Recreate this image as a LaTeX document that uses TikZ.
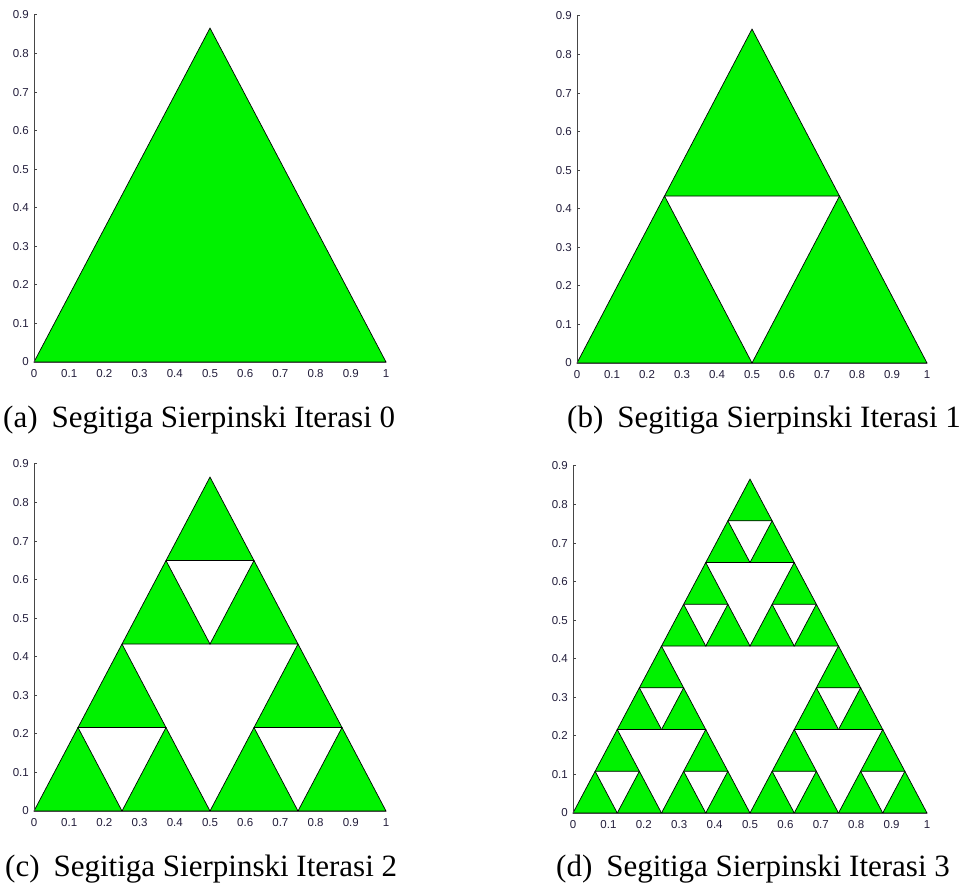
\documentclass[tikz,border=0pt]{standalone}
\usepackage{fontspec}
\setmainfont{Liberation Serif}
\newfontfamily\ticksfont{Liberation Sans}
\definecolor{sgreen}{RGB}{0,242,0}
\definecolor{axisgray}{RGB}{70,70,70}
\definecolor{ticktext}{RGB}{35,30,60}
\tikzset{
  tri/.style={fill=sgreen, draw=black, line width=0.7pt, line join=miter},
  axisline/.style={draw=axisgray, line width=1pt},
  ticklab/.style={font=\ticksfont\fontsize{11.5}{13}\selectfont, text=ticktext, inner sep=0pt},
  caption/.style={font=\fontsize{31}{36}\selectfont, anchor=west, inner sep=0pt}
}
\makeatletter
\def\sierp#1#2#3#4{%
  \ifnum#1=0
    \path[tri] (#2,#3) -- ++(#4,0) -- ++({-#4/2},{#4*0.8660254}) -- cycle;
  \else
    \begingroup
    \pgfmathtruncatemacro\mylev{#1-1}%
    \pgfmathsetmacro\myhs{#4/2}%
    \pgfmathsetmacro\myxb{#2+\myhs}%
    \pgfmathsetmacro\myxc{#2+\myhs/2}%
    \pgfmathsetmacro\myyc{#3+\myhs*0.8660254}%
    \edef\mynext{\noexpand\sierp{\mylev}{#2}{#3}{\myhs}\noexpand\sierp{\mylev}{\myxb}{#3}{\myhs}\noexpand\sierp{\mylev}{\myxc}{\myyc}{\myhs}}%
    \expandafter\endgroup\mynext
  \fi}
\makeatother
\newcommand\panelaxes{%
  \draw[axisline] (0,0.9) -- (0,0) -- (1,0);
  \foreach \t in {0.1,0.2,...,0.9} \draw[axisline] (0,\t) -- ++(3pt,0);
  \draw[axisline] (0,0.9) -- ++(3pt,0);
  \foreach \t/\l in {0/0,0.1/0.1,0.2/0.2,0.3/0.3,0.4/0.4,0.5/0.5,0.6/0.6,0.7/0.7,0.8/0.8,0.9/0.9}
    \node[ticklab, anchor=east] at ([xshift=-5pt]0,\t) {\l};
  \foreach \t/\l in {0/0,0.1/0.1,0.2/0.2,0.3/0.3,0.4/0.4,0.5/0.5,0.6/0.6,0.7/0.7,0.8/0.8,0.9/0.9,1/1}
    \node[ticklab, anchor=north] at ([yshift=-7pt]\t,0) {\l};
}
\begin{document}
\begin{tikzpicture}[x=1pt,y=-1pt]
\useasboundingbox[fill=white] (0,0) rectangle (970,889);
% (a)
\begin{scope}[shift={(34,362)}, x=352pt, y=385.6pt]
  \sierp{0}{0}{0}{1}
  \panelaxes
\end{scope}
% (b)
\begin{scope}[shift={(577,363)}, x=350pt, y=385.6pt]
  \sierp{1}{0}{0}{1}
  \panelaxes
\end{scope}
% (c)
\begin{scope}[shift={(34,811)}, x=352pt, y=385.6pt]
  \sierp{2}{0}{0}{1}
  \panelaxes
\end{scope}
% (d)
\begin{scope}[shift={(573,813)}, x=354pt, y=385.6pt]
  \sierp{3}{0}{0}{1}
  \panelaxes
\end{scope}
\node[caption] (capa) at (3,420) {(a)\hspace{14pt}Segitiga Sierpinski Iterasi 0};
\node[caption] (capb) at (567,420) {(b)\hspace{14pt}Segitiga Sierpinski Iterasi 1};
\node[caption] (capc) at (5,869) {(c)\hspace{14pt}Segitiga Sierpinski Iterasi 2};
\node[caption] (capd) at (556,869) {(d)\hspace{14pt}Segitiga Sierpinski Iterasi 3};
\end{tikzpicture}
\end{document}
